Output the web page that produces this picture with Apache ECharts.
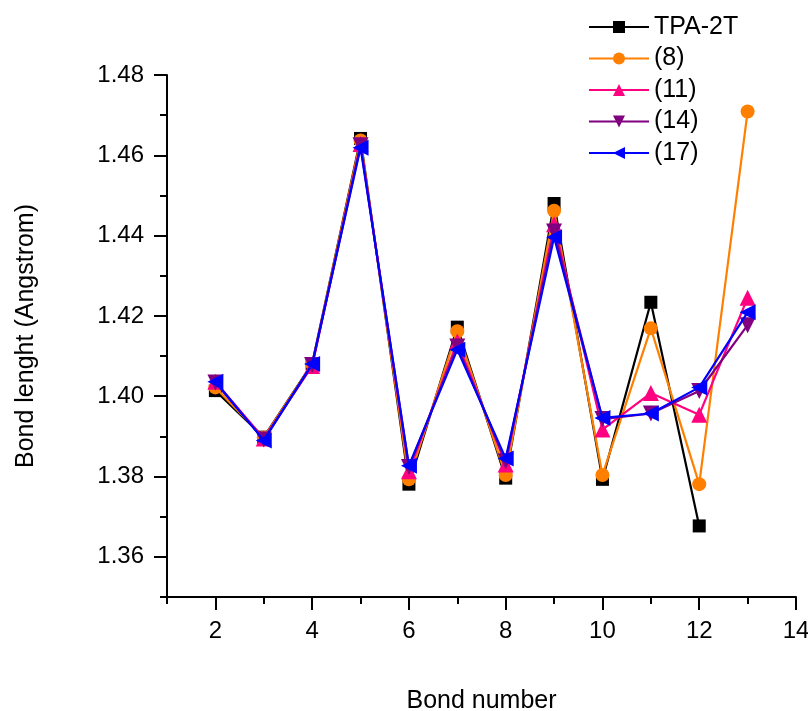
<!DOCTYPE html>
<html>
<head>
<meta charset="utf-8">
<script src="https://cdn.jsdelivr.net/npm/echarts@6/dist/echarts.min.js"></script>
<style>html,body{margin:0;padding:0;background:#fff}#c{width:808px;height:711px}</style>
</head>
<body>
<div id="c"></div>
<script>
const bondNumbers = [2, 3, 4, 5, 6, 7, 8, 9, 10, 11, 12, 13];
const tpa2t = [1.4014, 1.3898, 1.4081, 1.4642, 1.3781, 1.4172, 1.3796, 1.4480, 1.3793, 1.4234, 1.3677, null];
const s8  = [1.4022, 1.3897, 1.4080, 1.4637, 1.3793, 1.4162, 1.3804, 1.4462, 1.3804, 1.4169, 1.3781, 1.4709];
const s11 = [1.4036, 1.3895, 1.4075, 1.4628, 1.3813, 1.4136, 1.3830, 1.4428, 1.3917, 1.4008, 1.3954, 1.4245];
const s14 = [1.4034, 1.3892, 1.4078, 1.4625, 1.3824, 1.4124, 1.3838, 1.4410, 1.3943, 1.3957, 1.4013, 1.4177];
const s17 = [1.4036, 1.3890, 1.4080, 1.4619, 1.3827, 1.4116, 1.3845, 1.4396, 1.3946, 1.3957, 1.4022, 1.4209];
const seriesNames = ['TPA-2T', '(8)', '(11)', '(14)', '(17)'];
const xMajorTicks = [2, 4, 6, 8, 10, 12, 14];
const xMinorTicks = [1, 3, 5, 7, 9, 11, 13];
const yMajorTicks = [1.36, 1.38, 1.40, 1.42, 1.44, 1.46, 1.48];
const yMinorTicks = [1.35, 1.37, 1.39, 1.41, 1.43, 1.45, 1.47];

const FONT = 'Liberation Sans, Arial, sans-serif';
function pairs(arr){ return bondNumbers.map((x,i)=>[x, arr[i]]); }

const styles = [
  {color:'#000000', symbol:'rect', size:13, rot:0},
  {color:'#FF8000', symbol:'circle', size:14, rot:0},
  {color:'#FF0080', symbol:'triangle', size:16, rot:0},
  {color:'#800080', symbol:'triangle', size:16, rot:180},
  {color:'#0000FF', symbol:'triangle', size:16, rot:90}
];
const allData = [tpa2t, s8, s11, s14, s17];

const chart = echarts.init(document.getElementById('c'), null, {renderer:'canvas'});
const axisLine = {show:true, onZero:false, lineStyle:{color:'#000', width:2}};
chart.setOption({
  animation:false,
  backgroundColor:'#fff',
  grid:{left:167, right:12, top:75, bottom:114, containLabel:false, outerBoundsMode:'none'},
  legend:{
    orient:'vertical', left:588, top:13, padding:0, itemWidth:60, itemHeight:15, itemGap:3.5,
    textStyle:{fontFamily:FONT, fontSize:25, color:'#000', padding:[0,0,0,0], lineHeight:28},
    data: seriesNames
  },
  xAxis:[
    {type:'value', min:1, max:14, gridIndex:0,
     name:'Bond number', nameLocation:'middle', nameGap:92,
     nameTextStyle:{fontFamily:FONT, fontSize:25, color:'#000'},
     axisLine:axisLine, splitLine:{show:false},
     axisTick:{show:true, customValues:xMajorTicks, length:13, lineStyle:{color:'#000', width:2}},
     axisLabel:{show:true, customValues:xMajorTicks, fontFamily:FONT, fontSize:24, color:'#000', margin:22}
    },
    {type:'value', min:1, max:14, gridIndex:0, position:'bottom',
     axisLine:{show:false}, splitLine:{show:false},
     axisTick:{show:true, customValues:xMinorTicks, length:7, lineStyle:{color:'#000', width:2}},
     axisLabel:{show:false}
    }
  ],
  yAxis:[
    {type:'value', min:1.35, max:1.48, gridIndex:0,
     name:'Bond lenght (Angstrom)', nameLocation:'middle', nameGap:128,
     nameTextStyle:{fontFamily:FONT, fontSize:25, color:'#000'},
     axisLine:axisLine, splitLine:{show:false},
     axisTick:{show:true, customValues:yMajorTicks, length:13, lineStyle:{color:'#000', width:2}},
     axisLabel:{show:true, customValues:yMajorTicks, fontFamily:FONT, fontSize:24, color:'#000', margin:23,
       formatter:v=>Number(v).toFixed(2)}
    },
    {type:'value', min:1.35, max:1.48, gridIndex:0, position:'left',
     axisLine:{show:false}, splitLine:{show:false},
     axisTick:{show:true, customValues:yMinorTicks, length:7, lineStyle:{color:'#000', width:2}},
     axisLabel:{show:false}
    }
  ],
  series: allData.map((d,i)=>({
    name: seriesNames[i], type:'line', xAxisIndex:0, yAxisIndex:0,
    data: pairs(d),
    symbol: styles[i].symbol, symbolSize: styles[i].size, symbolRotate: styles[i].rot,
    showAllSymbol:true, connectNulls:false,
    lineStyle:{color:styles[i].color, width:2.2},
    itemStyle:{color:styles[i].color},
    z: 2 + i
  }))
});
</script>
</body>
</html>
